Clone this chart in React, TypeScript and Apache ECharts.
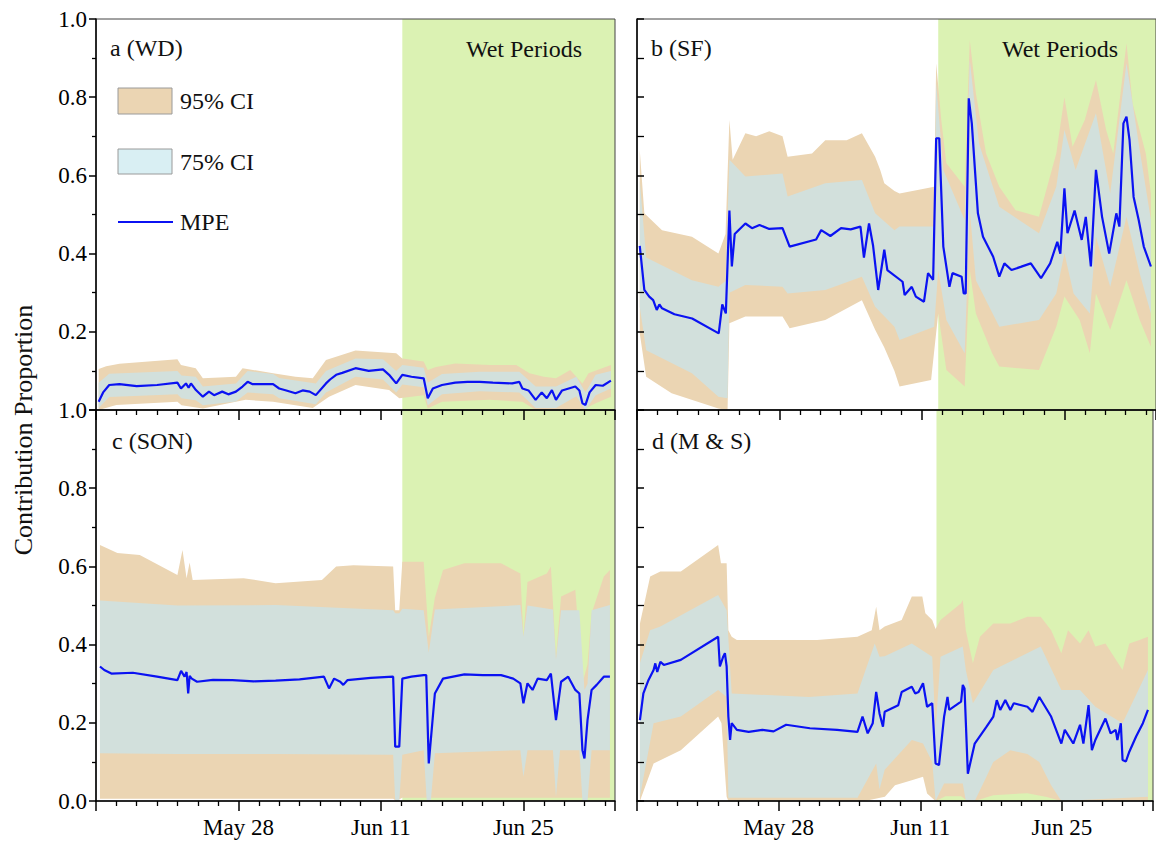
import React, { useEffect, useRef } from "react";
import * as echarts from "echarts";

// x values are days since May 14 (00:00); y values are contribution proportions
const X_LABEL_DAYS = [14, 28, 42];
const X_LABEL_TEXT = ["May 28", "Jun 11", "Jun 25"];
const PANEL_TITLES = ["a (WD)", "b (SF)", "c (SON)", "d (M & S)"];
const WET_START = [30.1, 29.6, 30.1, 29.6];

// ---------- a (WD) ----------
const MPE_A = [[0.26,0.021],[0.7,0.045],[1.3,0.064],[2.3,0.066],[4,0.061],[6,0.064],[8.0,0.070],[8.35,0.055],[8.84,0.068],[9.1,0.057],[9.33,0.068],[9.82,0.051],[10.5,0.034],[11.1,0.047],[11.6,0.038],[12.4,0.047],[13,0.04],[13.75,0.047],[14.4,0.06],[14.9,0.072],[15.4,0.066],[17.4,0.066],[18.0,0.055],[18.7,0.05],[19.6,0.043],[20.3,0.05],[21.0,0.047],[21.6,0.038],[22.6,0.068],[23.0,0.078],[23.6,0.09],[24.2,0.095],[25.5,0.107],[26.8,0.1],[28.2,0.104],[28.8,0.09],[29.5,0.068],[30.1,0.09],[31,0.085],[32.2,0.081],[32.6,0.03],[33.1,0.055],[34.0,0.064],[35.3,0.07],[36.5,0.072],[37.7,0.072],[39,0.07],[40.9,0.068],[41.6,0.072],[41.9,0.055],[42.5,0.05],[43.2,0.026],[43.8,0.045],[44.3,0.03],[44.8,0.051],[45.2,0.026],[45.8,0.05],[47.1,0.06],[47.5,0.05],[47.8,0.017],[48.1,0.013],[48.5,0.045],[49.1,0.064],[49.8,0.062],[50.6,0.075]];
const HI95_A = [[0.26,0.105],[1,0.112],[2.3,0.118],[8.0,0.13],[8.35,0.115],[9.8,0.107],[10.5,0.081],[13.75,0.085],[14.4,0.107],[17.4,0.094],[19.6,0.085],[21.3,0.081],[22.6,0.128],[25.5,0.152],[29.5,0.145],[30.1,0.132],[32.2,0.124],[32.6,0.102],[33.4,0.11],[35.3,0.119],[38.7,0.115],[41.3,0.115],[42.6,0.094],[44,0.085],[45.2,0.081],[46.6,0.102],[47.8,0.068],[48.4,0.094],[50.6,0.115]];
const LO95_A = [[0.26,0.0],[2,0.013],[8.0,0.021],[8.4,0.012],[10.5,0.004],[14.7,0.026],[17.4,0.021],[21.3,0.005],[22.9,0.034],[25.5,0.064],[28.8,0.051],[29.8,0.03],[32.2,0.038],[32.6,0.004],[34,0.021],[38.7,0.026],[41.9,0.021],[43.2,0.0],[47.8,0.0],[49.1,0.017],[50.6,0.034]];
const HI75_A = [[0.26,0.07],[1.3,0.093],[8.0,0.1],[8.4,0.088],[9.8,0.085],[10.5,0.06],[13.75,0.068],[14.9,0.1],[17.4,0.092],[18,0.082],[21.6,0.068],[22.6,0.1],[25.5,0.132],[28.2,0.13],[29.5,0.1],[30.1,0.115],[32.2,0.108],[32.6,0.07],[34,0.092],[37.7,0.098],[41.6,0.098],[43.2,0.06],[45.2,0.06],[47.2,0.085],[48.1,0.045],[49.1,0.09],[50.6,0.1]];
const LO75_A = [[0.26,0.005],[1.3,0.033],[8.0,0.04],[8.4,0.03],[9.8,0.025],[10.5,0.012],[13.75,0.022],[14.9,0.045],[17.4,0.04],[18,0.03],[21.6,0.015],[22.6,0.045],[25.5,0.085],[28.2,0.078],[29.5,0.045],[30.1,0.065],[32.2,0.058],[32.6,0.012],[34,0.04],[37.7,0.048],[41.6,0.045],[43.2,0.005],[45.2,0.005],[47.2,0.035],[48.1,0.0],[49.1,0.038],[50.6,0.055]];

// ---------- b (SF) ----------
const MPE_B = [[0.27,0.42],[0.72,0.307],[1.2,0.29],[1.59,0.281],[1.94,0.256],[2.2,0.27],[2.46,0.26],[3.68,0.245],[5.42,0.234],[8.03,0.196],[8.38,0.27],[8.73,0.247],[9.08,0.51],[9.32,0.367],[9.6,0.45],[10.65,0.477],[11.3,0.465],[12.04,0.473],[13,0.463],[14.3,0.465],[15.0,0.418],[17.6,0.436],[18.1,0.46],[19.0,0.445],[20.05,0.465],[21.0,0.462],[21.96,0.469],[22.3,0.39],[22.8,0.477],[23.2,0.42],[23.7,0.307],[24.3,0.41],[24.6,0.358],[26.1,0.328],[26.3,0.294],[27.0,0.315],[27.4,0.29],[28.2,0.277],[28.6,0.35],[29.1,0.333],[29.4,0.695],[29.7,0.695],[30.1,0.418],[30.7,0.315],[31.0,0.35],[31.9,0.341],[32.1,0.298],[32.3,0.298],[32.6,0.797],[32.9,0.733],[33.5,0.503],[34.0,0.443],[35.0,0.392],[35.6,0.341],[36.1,0.375],[36.8,0.358],[37.7,0.366],[38.7,0.375],[39.7,0.337],[40.6,0.375],[41.3,0.43],[41.6,0.4],[42.0,0.567],[42.3,0.452],[43.0,0.51],[43.7,0.435],[44.1,0.494],[44.6,0.367],[45.1,0.614],[45.7,0.494],[46.4,0.4],[47.1,0.503],[47.4,0.469],[47.8,0.733],[48.1,0.75],[48.4,0.69],[48.8,0.545],[49.3,0.486],[49.8,0.418],[50.5,0.367]];
const HI95_B = [[0.27,0.665],[0.72,0.503],[2.46,0.46],[5.4,0.443],[8.0,0.4],[8.7,0.45],[9.08,0.742],[9.4,0.64],[10.65,0.708],[11.7,0.7],[13,0.713],[14.3,0.7],[14.8,0.648],[17.2,0.656],[18.5,0.69],[20.6,0.69],[22.1,0.708],[23.4,0.648],[23.9,0.614],[24.3,0.58],[25.3,0.56],[25.8,0.554],[27.7,0.563],[29.2,0.571],[29.4,0.887],[29.9,0.742],[30.4,0.631],[32.2,0.571],[32.7,0.946],[33.3,0.81],[34.3,0.656],[35.6,0.571],[37.2,0.511],[39.5,0.494],[41.2,0.656],[42.0,0.80],[42.8,0.673],[44.0,0.742],[45.1,0.844],[46.1,0.716],[46.8,0.656],[48.1,0.938],[48.7,0.784],[50.0,0.656],[50.5,0.554]];
const LO95_B = [[0.27,0.196],[0.9,0.085],[3.4,0.043],[8.0,0.004],[8.9,0.0],[9.08,0.222],[10.65,0.239],[14.3,0.239],[15.0,0.209],[18.5,0.23],[22.1,0.281],[23.4,0.205],[24.3,0.16],[25.3,0.1],[25.8,0.06],[28.9,0.077],[29.6,0.247],[30.4,0.102],[32.2,0.06],[32.7,0.358],[33.3,0.247],[34.9,0.145],[35.6,0.111],[39.5,0.102],[41.2,0.213],[42.0,0.29],[43.5,0.23],[44.5,0.145],[45.1,0.298],[46.5,0.205],[48.1,0.332],[49.4,0.23],[50.5,0.162]];
const HI75_B = [[0.27,0.588],[0.9,0.39],[5.4,0.332],[8.0,0.315],[8.7,0.33],[9.08,0.64],[10.65,0.597],[14.3,0.605],[14.8,0.546],[18.5,0.58],[22.1,0.588],[23.4,0.503],[25.3,0.46],[25.8,0.469],[29.2,0.469],[29.4,0.835],[30.1,0.614],[32.2,0.486],[32.7,0.895],[33.6,0.682],[35.6,0.52],[39.5,0.452],[41.2,0.571],[42.0,0.716],[43.1,0.614],[45.1,0.759],[46.5,0.554],[48.1,0.887],[49.4,0.665],[50.5,0.486]];
const LO75_B = [[0.27,0.264],[0.9,0.153],[5.4,0.094],[8.0,0.034],[8.9,0.03],[9.08,0.3],[10.65,0.32],[14.3,0.315],[14.8,0.298],[18.5,0.307],[22.1,0.341],[23.4,0.264],[25.3,0.213],[25.8,0.179],[29.2,0.213],[29.6,0.358],[30.4,0.23],[32.2,0.145],[32.7,0.511],[33.3,0.332],[35.6,0.213],[39.5,0.23],[41.2,0.298],[42.0,0.401],[42.9,0.298],[44.5,0.247],[45.1,0.443],[46.5,0.315],[48.1,0.494],[49.4,0.349],[50.5,0.247]];

// ---------- c (SON) ----------
const MPE_C = [[0.39,0.344],[0.81,0.335],[1.51,0.326],[3.62,0.328],[6,0.318],[8.0,0.309],[8.36,0.333],[8.7,0.318],[8.9,0.33],[9.06,0.275],[9.2,0.32],[9.41,0.313],[9.93,0.305],[11.5,0.31],[13.4,0.309],[15.5,0.306],[17.65,0.308],[20,0.311],[22.4,0.318],[22.9,0.288],[23.4,0.313],[24.0,0.305],[24.3,0.297],[24.7,0.309],[27,0.315],[29.2,0.318],[29.4,0.139],[29.8,0.139],[30.1,0.313],[31,0.318],[32.2,0.322],[32.45,0.322],[32.7,0.096],[33.3,0.275],[34.1,0.313],[36.2,0.324],[38,0.322],[39.8,0.322],[41.0,0.313],[41.7,0.301],[42.0,0.25],[42.4,0.301],[42.9,0.284],[43.4,0.313],[44.3,0.309],[44.7,0.326],[45.2,0.207],[45.7,0.305],[46.4,0.318],[47.1,0.284],[47.5,0.275],[47.8,0.13],[48.0,0.109],[48.3,0.207],[48.7,0.284],[49.2,0.297],[49.9,0.318],[50.5,0.318]];
const HI95_C = [[0.39,0.655],[2.1,0.634],[4.3,0.629],[8.0,0.578],[8.5,0.642],[8.9,0.57],[9.2,0.61],[9.5,0.565],[14.5,0.57],[17.65,0.557],[22.2,0.565],[23.6,0.6],[25.3,0.603],[29.2,0.6],[29.4,0.488],[29.8,0.488],[30.1,0.612],[32.2,0.612],[32.7,0.42],[33.3,0.52],[34.1,0.591],[36.2,0.608],[39.8,0.608],[41.7,0.582],[42.0,0.42],[42.4,0.56],[44.3,0.582],[44.7,0.6],[45.2,0.369],[45.7,0.523],[47.1,0.54],[47.8,0.301],[48.3,0.35],[48.7,0.48],[49.9,0.574],[50.5,0.591]];
const LO95_C = [[0.39,0.006],[29.2,0.006],[29.5,0.0],[30.1,0.008],[50.5,0.008]];
const HI75_C = [[0.39,0.513],[8.0,0.5],[17.65,0.501],[29.2,0.488],[29.4,0.48],[29.8,0.48],[30.1,0.492],[32.2,0.488],[32.7,0.38],[33.3,0.49],[41.7,0.501],[42.0,0.42],[42.4,0.5],[44.9,0.49],[45.2,0.361],[45.7,0.488],[47.5,0.488],[48.0,0.284],[48.3,0.3],[48.7,0.488],[50.5,0.501]];
const LO75_C = [[0.39,0.122],[8,0.12],[17.65,0.12],[29.2,0.118],[29.4,0.0],[29.8,0.0],[30.1,0.118],[32.2,0.13],[32.5,0.0],[32.9,0.0],[33.3,0.122],[41.7,0.13],[42.0,0.062],[42.4,0.13],[44.9,0.13],[45.2,0.011],[45.6,0.13],[47.5,0.13],[47.8,0.0],[48.3,0.0],[48.7,0.13],[50.5,0.13]];

// ---------- d (M & S) ----------
const MPE_D = [[0.29,0.207],[0.63,0.275],[1.13,0.309],[1.64,0.335],[1.81,0.352],[2.0,0.33],[2.31,0.356],[2.65,0.348],[4.33,0.361],[8.02,0.42],[8.19,0.344],[8.52,0.369],[8.69,0.378],[8.86,0.344],[9.03,0.216],[9.2,0.156],[9.36,0.199],[9.87,0.182],[11.04,0.177],[12.39,0.182],[13.5,0.178],[14.74,0.195],[17.09,0.186],[19.77,0.182],[21.79,0.177],[22.29,0.216],[22.8,0.173],[23.3,0.199],[23.64,0.279],[23.97,0.224],[24.31,0.19],[24.48,0.228],[25.82,0.245],[26.16,0.279],[27.16,0.292],[27.5,0.275],[27.83,0.279],[28.27,0.301],[28.67,0.241],[29.18,0.25],[29.51,0.096],[29.85,0.092],[30.35,0.215],[30.69,0.266],[30.86,0.233],[32.03,0.254],[32.2,0.297],[32.37,0.288],[32.7,0.07],[33.38,0.147],[34.55,0.19],[35.22,0.216],[35.56,0.258],[35.9,0.233],[36.4,0.258],[36.9,0.233],[37.24,0.25],[38.58,0.241],[39.09,0.228],[39.76,0.266],[40.93,0.216],[41.94,0.147],[42.28,0.182],[43.12,0.147],[43.79,0.195],[44.12,0.147],[44.63,0.245],[44.96,0.13],[45.3,0.156],[46.3,0.211],[46.81,0.173],[47.31,0.182],[47.48,0.156],[47.82,0.199],[47.99,0.105],[48.32,0.101],[48.66,0.126],[49.33,0.165],[50.0,0.199],[50.5,0.233]];
const HI95_D = [[0.29,0.454],[1.3,0.574],[2.31,0.587],[4.33,0.587],[8.02,0.655],[8.3,0.608],[8.86,0.608],[9.03,0.437],[9.36,0.42],[9.87,0.412],[17.8,0.412],[21.79,0.42],[23.2,0.437],[23.64,0.497],[23.97,0.437],[24.48,0.446],[26.16,0.463],[27.16,0.523],[28.2,0.523],[28.5,0.48],[29.18,0.463],[29.51,0.44],[30.0,0.463],[32.03,0.506],[32.2,0.514],[32.5,0.437],[33.2,0.352],[33.9,0.42],[35.22,0.454],[36.9,0.454],[38.58,0.471],[39.9,0.471],[40.93,0.437],[41.94,0.378],[42.6,0.437],[43.79,0.403],[44.63,0.437],[45.3,0.395],[46.3,0.403],[47.99,0.335],[48.66,0.403],[49.67,0.412],[50.5,0.42]];
const LO95_D = [[0.29,0.0],[1.64,0.096],[4.33,0.13],[8.02,0.216],[8.35,0.199],[8.86,0.011],[9.03,0.0],[22.5,0.0],[24.5,0.011],[25.5,0.04],[27.16,0.053],[28.27,0.062],[28.67,0.019],[29.5,0.0],[30.5,0.012],[32.03,0.012],[32.4,0.005],[33.38,0.0],[35.22,0.015],[38.58,0.02],[40.5,0.01],[41.94,0.0],[50.5,0.0]];
const HI75_D = [[0.29,0.352],[1.3,0.437],[2.31,0.446],[8.02,0.527],[8.86,0.488],[9.36,0.275],[17,0.266],[21.79,0.275],[23.5,0.403],[23.97,0.369],[24.48,0.37],[27.16,0.403],[29.18,0.369],[29.51,0.182],[30.0,0.369],[32.2,0.395],[32.5,0.335],[33.2,0.25],[35.22,0.335],[39.9,0.395],[41.94,0.284],[43.79,0.284],[45.3,0.241],[47.99,0.199],[50.5,0.335]];
const LO75_D = [[0.29,0.011],[1.64,0.199],[4.33,0.216],[8.02,0.284],[8.86,0.266],[9.03,0.008],[21.79,0.008],[23.64,0.096],[23.97,0.03],[24.48,0.08],[27.16,0.156],[28.27,0.147],[29.18,0.1],[29.51,0.0],[30.35,0.045],[32.2,0.045],[32.5,0.0],[33.38,0.0],[34.5,0.06],[35.22,0.1],[36.9,0.13],[38.58,0.12],[39.76,0.1],[40.93,0.04],[41.94,0.0],[50.5,0.011]];

const PANEL_DATA = [
  { mpe: MPE_A, hi95: HI95_A, lo95: LO95_A, hi75: HI75_A, lo75: LO75_A },
  { mpe: MPE_B, hi95: HI95_B, lo95: LO95_B, hi75: HI75_B, lo75: LO75_B },
  { mpe: MPE_C, hi95: HI95_C, lo95: LO95_C, hi75: HI75_C, lo75: LO75_C },
  { mpe: MPE_D, hi95: HI95_D, lo95: LO95_D, hi75: HI75_D, lo75: LO75_D },
];

const FONT = '"Liberation Serif", "Times New Roman", serif';
const C_95 = "#ebd5b3";
const C_75 = "#d2e0dc";
const C_75_LEGEND = "#d9eff3";
const C_WET = "#dbf2b3";
const C_LINE = "#0b12f2";

const GRIDS = [
  { left: 96, top: 19, width: 519, height: 391 },
  { left: 637, top: 19, width: 519, height: 391 },
  { left: 96, top: 410, width: 519, height: 391 },
  { left: 637, top: 410, width: 519, height: 391 },
];

function bandSeries(upper: number[][], lower: number[][], color: string, gi: number, z: number) {
  return {
    type: "custom",
    xAxisIndex: gi,
    yAxisIndex: gi,
    z,
    silent: true,
    clip: true,
    data: [[upper[0][0], upper[0][1]]],
    encode: { x: 0, y: 1 },
    renderItem: (params: any, api: any) => {
      const pts = upper.map((p) => api.coord(p)).concat(
        lower.slice().reverse().map((p) => api.coord(p))
      );
      return { type: "polygon", shape: { points: pts }, style: { fill: color } };
    },
  };
}

function wetSeries(start: number, gi: number) {
  return {
    type: "custom",
    xAxisIndex: gi,
    yAxisIndex: gi,
    z: 1,
    silent: true,
    data: [[start, 0]],
    encode: { x: 0, y: 1 },
    renderItem: (params: any, api: any) => {
      const cs = params.coordSys;
      const p = api.coord([api.value(0), 0]);
      return {
        type: "rect",
        shape: { x: p[0], y: cs.y, width: cs.x + cs.width - p[0], height: cs.height },
        style: { fill: C_WET },
      };
    },
  };
}

function buildOption() {
  const grid = GRIDS.map((g) => ({
    ...g,
    show: true,
    z: 10,
    borderColor: "#444",
    borderWidth: 1,
    backgroundColor: "transparent",
  }));
  const xAxis = GRIDS.map((_, i) => ({
    type: "value",
    gridIndex: i,
    min: 0,
    max: 51,
    interval: 14,
    z: 12,
    axisLine: { show: true, onZero: false, lineStyle: { color: "#000", width: 1.5 } },
    axisTick: { show: true, length: 10, inside: false, lineStyle: { color: "#000", width: 1.5 } },
    minorTick: { show: true, splitNumber: 7, length: 5, lineStyle: { color: "#000", width: 1.3 } },
    splitLine: { show: false },
    axisLabel: {
      show: i >= 2,
      fontFamily: FONT,
      fontSize: 23,
      color: "#000",
      margin: 15,
      formatter: (v: number) => {
        const k = X_LABEL_DAYS.findIndex((d) => Math.abs(d - v) < 1e-6);
        return k >= 0 ? X_LABEL_TEXT[k] : "";
      },
    },
  }));
  const yAxis = GRIDS.map((_, i) => ({
    type: "value",
    gridIndex: i,
    min: 0,
    max: 1,
    interval: 0.2,
    z: 12,
    axisLine: { show: true, onZero: false, lineStyle: { color: "#000", width: 1.5 } },
    axisTick: { show: true, length: 7, inside: i % 2 === 1, lineStyle: { color: "#000", width: 1.5 } },
    minorTick: { show: true, splitNumber: 2, length: i % 2 === 1 ? 7 : 4, lineStyle: { color: "#000", width: 1.3 } },
    splitLine: { show: false },
    axisLabel: {
      show: i % 2 === 0,
      fontFamily: FONT,
      fontSize: 23,
      color: "#000",
      margin: 9,
      formatter: (v: number) => (i === 0 && Math.abs(v) < 1e-6 ? "" : v.toFixed(1)),
    },
  }));

  const series: any[] = [];
  PANEL_DATA.forEach((p, i) => {
    series.push(wetSeries(WET_START[i], i));
    series.push(bandSeries(p.hi95, p.lo95, C_95, i, 2));
    series.push(bandSeries(p.hi75, p.lo75, C_75, i, 3));
    series.push({
      type: "line",
      name: "MPE",
      xAxisIndex: i,
      yAxisIndex: i,
      z: 5,
      data: p.mpe,
      symbol: "none",
      showSymbol: false,
      lineStyle: { color: C_LINE, width: 2.2 },
      silent: true,
    });
  });

  const txt = (text: string, x: number, y: number, align = "left", size = 24) => ({
    type: "text",
    x,
    y,
    z: 20,
    style: {
      text,
      fontFamily: FONT,
      fontSize: size,
      fill: "#111",
      textAlign: align,
      textVerticalAlign: "middle",
    },
  });

  const graphic: any[] = [
    txt(PANEL_TITLES[0], 110, 48),
    txt(PANEL_TITLES[1], 651, 48),
    txt(PANEL_TITLES[2], 112, 441),
    txt(PANEL_TITLES[3], 652, 441),
    txt("Wet Periods", 524, 49, "center"),
    txt("Wet Periods", 1060, 49, "center"),
    {
      type: "text",
      x: 23,
      y: 430,
      rotation: Math.PI / 2,
      z: 20,
      style: {
        text: "Contribution Proportion",
        fontFamily: FONT,
        fontSize: 26,
        fill: "#111",
        textAlign: "center",
        textVerticalAlign: "middle",
      },
    },
    {
      type: "rect",
      z: 20,
      shape: { x: 118, y: 88, width: 54, height: 26 },
      style: { fill: C_95, stroke: "#9a9a9a", lineWidth: 1 },
    },
    txt("95% CI", 180, 101),
    {
      type: "rect",
      z: 20,
      shape: { x: 118, y: 149, width: 54, height: 25 },
      style: { fill: C_75_LEGEND, stroke: "#9a9a9a", lineWidth: 1 },
    },
    txt("75% CI", 180, 162),
    {
      type: "line",
      z: 20,
      shape: { x1: 118, y1: 222, x2: 173, y2: 222 },
      style: { stroke: C_LINE, lineWidth: 2 },
    },
    txt("MPE", 180, 222),
  ];

  return {
    animation: false,
    backgroundColor: "#fff",
    grid,
    xAxis,
    yAxis,
    series,
    graphic,
  };
}

export default function App() {
  const ref = useRef<HTMLDivElement>(null);
  useEffect(() => {
    if (!ref.current) return;
    const chart = echarts.init(ref.current, null, { renderer: "svg" });
    chart.setOption(buildOption() as any);
    return () => chart.dispose();
  }, []);
  return (
    <div
      ref={ref}
      style={{ position: "fixed", left: 0, top: 0, width: 1156, height: 848, background: "#fff" }}
    />
  );
}
